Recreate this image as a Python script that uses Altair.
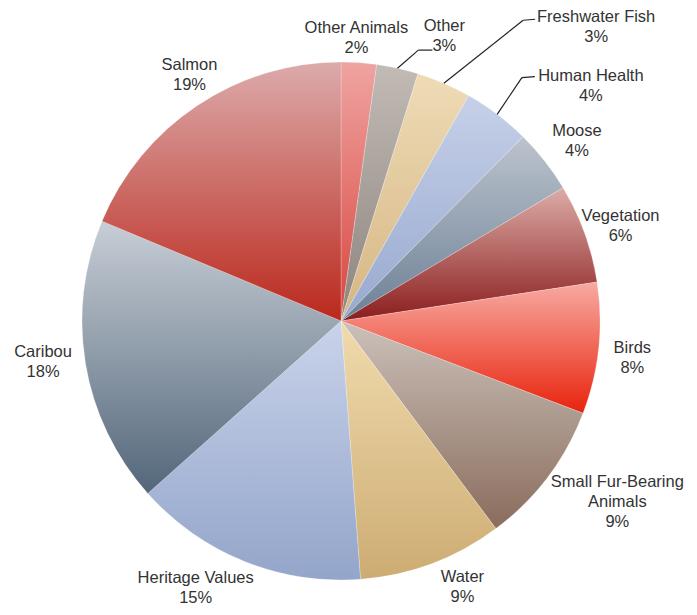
import altair as alt
import pandas as pd

# ---- data (share of the pie, in percent) ----
categories = ["Other Animals", "Other", "Freshwater Fish", "Human Health", "Moose",
              "Vegetation", "Birds", "Small Fur-Bearing Animals", "Water",
              "Heritage Values", "Caribou", "Salmon"]
shares = [2.2, 2.6, 3.4, 4.2, 4.0, 6.2, 8.2, 9.0, 9.0, 14.6, 17.9, 18.7]
pct_labels = ["2%", "3%", "3%", "4%", "4%", "6%", "8%", "9%", "9%", "15%", "18%", "19%"]

# ---- styles (vertical gradient top -> bottom for every slice) ----
grad_top = ["#efa4a2", "#c2bab5", "#eedbb6", "#c6d0e8", "#bcc3cd", "#dcaca7",
            "#f8aaa2", "#cbc1ba", "#f0dbad", "#c9d3ea", "#c7ced6", "#dcabab"]
grad_bottom = ["#d8453e", "#8d847f", "#d6b683", "#97a9cf", "#6c8095", "#8a1d1d",
               "#e8230c", "#8a6c5c", "#cdac73", "#93a5ca", "#53667a", "#bb281c"]

# ---- label layout (offsets from the polar anchor at the slice middle) ----
label_dx = [-5, 39, 138, 72, 4, 2, -2, 41, 18, -35, -7, 12]
label_dy = [11, 3, -23, 0, 2, 5, 6, 3, -10, -7, -8, 0]
# leader lines: elbow and end offsets relative to the label centre
leader_on = [0, 1, 1, 1, 0, 0, 0, 0, 0, 0, 0, 0]
elbow_dx = [0, -26, -73, -69, 0, 0, 0, 0, 0, 0, 0, 0]
elbow_dy = [0, 14, -7, -8, 0, 0, 0, 0, 0, 0, 0, 0]
end_dx = [0, -12, -61, -56, 0, 0, 0, 0, 0, 0, 0, 0]
end_dy = [0, 14, -8, -9, 0, 0, 0, 0, 0, 0, 0, 0]

W, H = 681, 599
CX, CY, R, LR = 333, 313, 259, 295
LINE_H = 20

df = pd.DataFrame({
    "order": list(range(len(categories))),
    "category": categories,
    "share": shares,
    "pct": pct_labels,
})
df["label"] = [c.replace("Small Fur-Bearing Animals", "Small Fur-Bearing\nAnimals") + "\n" + p
               for c, p in zip(categories, pct_labels)]
df["ldx"] = label_dx
df["ldy"] = label_dy
df["leader"] = leader_on
df["edx"] = elbow_dx
df["edy"] = elbow_dy
df["fdx"] = end_dx
df["fdy"] = end_dy

base = alt.Chart(df).transform_window(
    cum="sum(share)", sort=[alt.SortField("order")]
).transform_calculate(
    start="datum.cum - datum.share",
    mid="(datum.cum - datum.share / 2) / 100 * 2 * PI",
).transform_calculate(
    lx=f"{CX} + {LR} * sin(datum.mid) + datum.ldx",
    ly=f"{CY} - {LR} * cos(datum.mid) + datum.ldy",
    rx=f"{CX} + {R} * sin(datum.mid)",
    ry=f"{CY} - {R} * cos(datum.mid)",
).transform_calculate(
    ty=f"datum.ly - (length(split(datum.label, '\\n')) - 1) * {LINE_H} / 2",
)

theta_scale = alt.Scale(domain=[0, 100])
layers = []
for i, cat in enumerate(categories):
    grad = alt.LinearGradient(
        gradient="linear",
        stops=[alt.GradientStop(color=grad_top[i], offset=0),
               alt.GradientStop(color=grad_bottom[i], offset=1)],
        x1=0, x2=0, y1=0, y2=1,
    )
    layers.append(
        base.transform_filter(alt.datum.category == cat)
        .mark_arc(fill=grad, outerRadius=R, stroke="#ffffff", strokeWidth=0.4, strokeOpacity=0.6)
        .encode(
            theta=alt.Theta("start:Q", scale=theta_scale),
            theta2="cum:Q",
            x=alt.value(CX),
            y=alt.value(CY),
        )
    )

leader_base = base.transform_filter(alt.datum.leader == 1).transform_calculate(
    ex="datum.lx + datum.edx", ey="datum.ly + datum.edy",
    fx="datum.lx + datum.fdx", fy="datum.ly + datum.fdy",
)
leader1 = leader_base.mark_rule(color="#222222", strokeWidth=1.2).encode(
    x=alt.X("rx:Q", scale=None), y=alt.Y("ry:Q", scale=None), x2="ex:Q", y2="ey:Q")
leader2 = leader_base.mark_rule(color="#222222", strokeWidth=1.2).encode(
    x=alt.X("ex:Q", scale=None), y=alt.Y("ey:Q", scale=None), x2="fx:Q", y2="fy:Q")

labels = base.mark_text(
    font="Liberation Sans", fontSize=16.5, color="#333333", lineBreak="\n",
    align="center", baseline="middle", lineHeight=LINE_H,
).encode(
    x=alt.X("lx:Q", scale=None),
    y=alt.Y("ty:Q", scale=None),
    text="label:N",
)

chart = alt.layer(*layers, leader1, leader2, labels).properties(
    width=W, height=H, padding=0, autosize="none", background="#ffffff"
).configure_view(strokeWidth=0)

chart.save("out.html", embed_options={"renderer": "svg", "actions": False})
